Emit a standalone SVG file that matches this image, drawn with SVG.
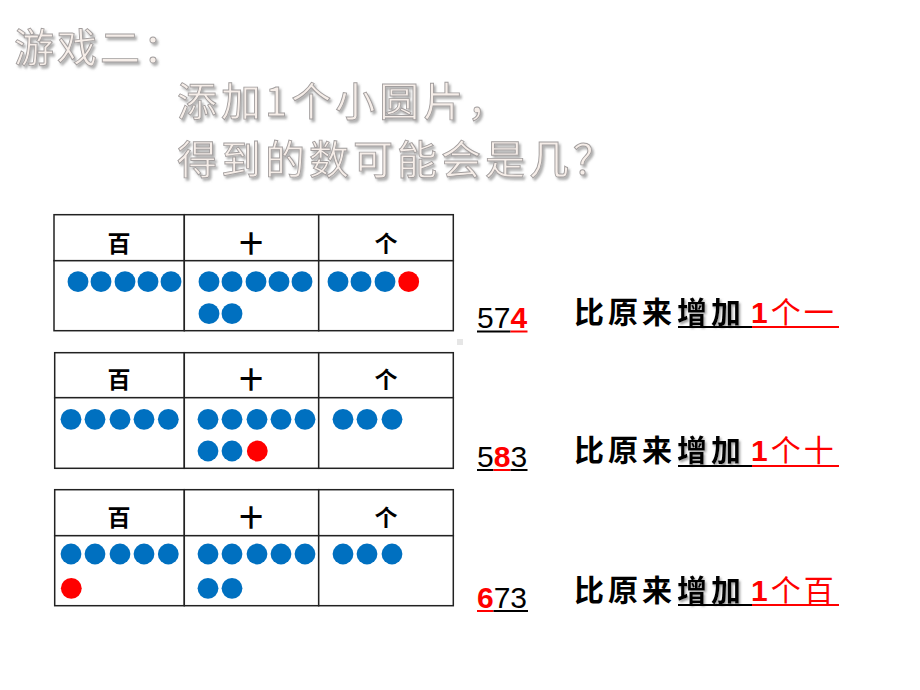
<svg xmlns="http://www.w3.org/2000/svg" width="920" height="690" viewBox="0 0 920 690">
<defs>
<filter id="tshadow" x="-5%" y="-5%" width="115%" height="130%">
<feDropShadow dx="2" dy="2.5" stdDeviation="1" flood-color="#6e6e6e" flood-opacity="0.55"/>
</filter>
<filter id="ashadow" x="-10%" y="-10%" width="130%" height="140%">
<feDropShadow dx="1.5" dy="2" stdDeviation="1.2" flood-color="#777" flood-opacity="0.7"/>
</filter>
</defs>
<style>
.title{font-family:"Noto Sans CJK SC","Noto Sans CJK TC",sans-serif;font-weight:400;fill:#f6eee9;stroke:#a29e9e;stroke-width:0.9;filter:url(#tshadow)}
.cell{fill:#fff;stroke:#222;stroke-width:1.5}
.hdr{font-family:"Noto Sans CJK SC",sans-serif;font-weight:700;font-size:23px;fill:#000;text-anchor:middle}
.b{fill:#0070C0}
.r{fill:#FF0000}
.num{font-family:"Liberation Sans",Arial,sans-serif;font-size:30px;fill:#000}
.numr{fill:#FF0000;font-weight:700}
.say{font-family:"Noto Sans CJK SC",sans-serif;font-weight:700;font-size:30px;fill:#000;letter-spacing:4px}
.sayr{fill:#FF0000;font-weight:400;letter-spacing:3px}
.one{font-family:"Liberation Sans",Arial,sans-serif;font-weight:700}
.ulk{stroke:#000;stroke-width:2}
.ulr{stroke:#FF0000;stroke-width:2}
</style>
<rect width="920" height="690" fill="#fff"/>

<g id="title">
<text class="title" x="14" y="62" font-size="40" letter-spacing="3">游戏二：</text>
<text class="title" x="177" y="116" font-size="40" letter-spacing="4">添加1个小圆片，</text>
<text class="title" x="177" y="174" font-size="40" letter-spacing="4">得到的数可能会是几？</text>
</g>

<g id="table1">
<rect class="cell" x="54" y="214.7" width="130.3" height="46"/>
<rect class="cell" x="184.3" y="214.7" width="134.4" height="46"/>
<rect class="cell" x="318.7" y="214.7" width="134.6" height="46"/>
<rect class="cell" x="54" y="260.7" width="130.3" height="70"/>
<rect class="cell" x="184.3" y="260.7" width="134.4" height="70"/>
<rect class="cell" x="318.7" y="260.7" width="134.6" height="70"/>
<text class="hdr" x="119" y="252">百</text>
<text class="hdr" x="251" y="252">十</text>
<text class="hdr" x="386" y="252">个</text>
<circle class="b" cx="78" cy="281.7" r="10.4"/>
<circle class="b" cx="101" cy="281.7" r="10.4"/>
<circle class="b" cx="125" cy="281.7" r="10.4"/>
<circle class="b" cx="148" cy="281.7" r="10.4"/>
<circle class="b" cx="171" cy="281.7" r="10.4"/>
<circle class="b" cx="209" cy="281.7" r="10.4"/>
<circle class="b" cx="232" cy="281.7" r="10.4"/>
<circle class="b" cx="256" cy="281.7" r="10.4"/>
<circle class="b" cx="279" cy="281.7" r="10.4"/>
<circle class="b" cx="302" cy="281.7" r="10.4"/>
<circle class="b" cx="209" cy="313.7" r="10.4"/>
<circle class="b" cx="232" cy="313.7" r="10.4"/>
<circle class="b" cx="338" cy="281.7" r="10.4"/>
<circle class="b" cx="361" cy="281.7" r="10.4"/>
<circle class="b" cx="385" cy="281.7" r="10.4"/>
<circle class="r" cx="408.7" cy="281.7" r="10.4"/>
</g>

<g id="table2">
<rect class="cell" x="54.7" y="352.7" width="129.6" height="45"/>
<rect class="cell" x="184.3" y="352.7" width="134.4" height="45"/>
<rect class="cell" x="318.7" y="352.7" width="134.6" height="45"/>
<rect class="cell" x="54.7" y="397.7" width="129.6" height="70.6"/>
<rect class="cell" x="184.3" y="397.7" width="134.4" height="70.6"/>
<rect class="cell" x="318.7" y="397.7" width="134.6" height="70.6"/>
<text class="hdr" x="119" y="388">百</text>
<text class="hdr" x="251" y="388">十</text>
<text class="hdr" x="386" y="388">个</text>
<circle class="b" cx="71" cy="419.3" r="10.4"/>
<circle class="b" cx="95" cy="419.3" r="10.4"/>
<circle class="b" cx="120" cy="419.3" r="10.4"/>
<circle class="b" cx="144" cy="419.3" r="10.4"/>
<circle class="b" cx="168.3" cy="419.3" r="10.4"/>
<circle class="b" cx="208" cy="419.3" r="10.4"/>
<circle class="b" cx="232" cy="419.3" r="10.4"/>
<circle class="b" cx="257" cy="419.3" r="10.4"/>
<circle class="b" cx="281" cy="419.3" r="10.4"/>
<circle class="b" cx="305" cy="419.3" r="10.4"/>
<circle class="b" cx="208" cy="451" r="10.4"/>
<circle class="b" cx="232" cy="451" r="10.4"/>
<circle class="r" cx="257.3" cy="451" r="10.4"/>
<circle class="b" cx="343" cy="419.3" r="10.4"/>
<circle class="b" cx="367" cy="419.3" r="10.4"/>
<circle class="b" cx="392" cy="419.3" r="10.4"/>
</g>

<g id="table3">
<rect class="cell" x="54.7" y="489.7" width="129.6" height="46"/>
<rect class="cell" x="184.3" y="489.7" width="134.4" height="46"/>
<rect class="cell" x="318.7" y="489.7" width="134.6" height="46"/>
<rect class="cell" x="54.7" y="535.7" width="129.6" height="70"/>
<rect class="cell" x="184.3" y="535.7" width="134.4" height="70"/>
<rect class="cell" x="318.7" y="535.7" width="134.6" height="70"/>
<text class="hdr" x="119" y="526">百</text>
<text class="hdr" x="251" y="526">十</text>
<text class="hdr" x="386" y="526">个</text>
<circle class="b" cx="71" cy="554" r="10.4"/>
<circle class="b" cx="95" cy="554" r="10.4"/>
<circle class="b" cx="120" cy="554" r="10.4"/>
<circle class="b" cx="144" cy="554" r="10.4"/>
<circle class="b" cx="168.3" cy="554" r="10.4"/>
<circle class="r" cx="71.3" cy="588.3" r="10.4"/>
<circle class="b" cx="208" cy="554" r="10.4"/>
<circle class="b" cx="232" cy="554" r="10.4"/>
<circle class="b" cx="257" cy="554" r="10.4"/>
<circle class="b" cx="281" cy="554" r="10.4"/>
<circle class="b" cx="305" cy="554" r="10.4"/>
<circle class="b" cx="208" cy="588.3" r="10.4"/>
<circle class="b" cx="232" cy="588.3" r="10.4"/>
<circle class="b" cx="343" cy="554" r="10.4"/>
<circle class="b" cx="367" cy="554" r="10.4"/>
<circle class="b" cx="392" cy="554" r="10.4"/>
</g>

<rect x="457" y="339" width="6" height="6" fill="#e6e6e6"/>

<g id="answer1">
<text class="num" x="477" y="328">57<tspan class="numr">4</tspan></text>
<line class="ulk" x1="477" y1="331.5" x2="510.5" y2="331.5"/>
<line class="ulr" x1="510.5" y1="331.5" x2="527.5" y2="331.5"/>
<text class="say" x="574" y="323">比原来</text>
<text class="say" x="677" y="323" letter-spacing="6" filter="url(#ashadow)">增加</text>
<text class="say sayr" x="751" y="323"><tspan class="one">1</tspan>个一</text>
<line class="ulk" x1="678" y1="327" x2="752" y2="327"/>
<line class="ulr" x1="752" y1="327" x2="839" y2="327"/>
</g>

<g id="answer2">
<text class="num" x="477" y="466.5">5<tspan class="numr" font-weight="400">8</tspan>3</text>
<line class="ulk" x1="477" y1="470" x2="493.5" y2="470"/>
<line class="ulr" x1="493.5" y1="470" x2="510.5" y2="470"/>
<line class="ulk" x1="510.5" y1="470" x2="527.5" y2="470"/>
<text class="say" x="574" y="461">比原来</text>
<text class="say" x="677" y="461" letter-spacing="6" filter="url(#ashadow)">增加</text>
<text class="say sayr" x="751" y="461"><tspan class="one">1</tspan>个十</text>
<line class="ulk" x1="678" y1="466" x2="752" y2="466"/>
<line class="ulr" x1="752" y1="466" x2="839" y2="466"/>
</g>

<g id="answer3">
<text class="num" x="477" y="608"><tspan class="numr">6</tspan>73</text>
<line class="ulr" x1="477" y1="611" x2="493.5" y2="611"/>
<line class="ulk" x1="493.5" y1="611" x2="528" y2="611"/>
<text class="say" x="574" y="601">比原来</text>
<text class="say" x="677" y="601" letter-spacing="6" filter="url(#ashadow)">增加</text>
<text class="say sayr" x="751" y="601"><tspan class="one">1</tspan>个百</text>
<line class="ulk" x1="678" y1="605" x2="752" y2="605"/>
<line class="ulr" x1="752" y1="605" x2="839" y2="605"/>
</g>
</svg>
